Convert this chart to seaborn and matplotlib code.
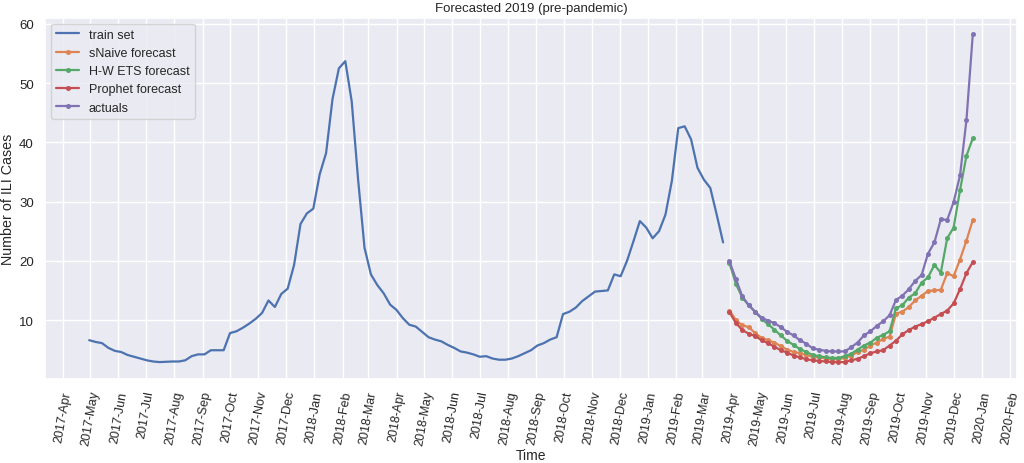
import numpy as np
import pandas as pd
import matplotlib
matplotlib.use("Agg")
import matplotlib.pyplot as plt
import matplotlib.dates as mdates
import seaborn as sns

# ---- data ----
train_start = "2017-04-30"
train_values = [
    6.6, 6.3, 6.1, 5.3, 4.8, 4.6, 4.1, 3.8, 3.5, 3.2,
    3.0, 2.9, 2.95, 3.0, 3.0, 3.2, 3.9, 4.2, 4.2, 4.9,
    4.9, 4.9, 7.8, 8.1, 8.7, 9.4, 10.2, 11.2, 13.3, 12.2,
    14.4, 15.3, 19.3, 26.2, 28.0, 28.8, 34.6, 38.2, 47.3, 52.5,
    53.7, 46.9, 33.7, 22.2, 17.7, 15.9, 14.5, 12.6, 11.7, 10.3,
    9.2, 8.9, 8.0, 7.1, 6.7, 6.4, 5.8, 5.3, 4.7, 4.5,
    4.2, 3.8, 3.9, 3.5, 3.3, 3.3, 3.5, 3.9, 4.4, 4.9,
    5.7, 6.1, 6.7, 7.1, 11.0, 11.4, 12.1, 13.2, 14.0, 14.8,
    14.9, 15.0, 17.7, 17.4, 20.0, 23.3, 26.7, 25.6, 23.8, 25.0,
    27.8, 33.5, 42.4, 42.7, 40.5, 35.7, 33.7, 32.3, 27.8, 23.1,
]

forecast_start = "2019-03-31"
snaive_values = [
    11.6, 10.0, 9.1, 8.8, 7.8, 7.0, 6.6, 6.2, 5.6, 5.0,
    4.6, 4.4, 4.1, 3.8, 3.7, 3.5, 3.4, 3.4, 3.6, 4.0,
    4.6, 5.0, 5.7, 6.2, 6.8, 7.2, 11.1, 11.4, 12.2, 13.3,
    14.1, 14.9, 15.0, 15.1, 17.9, 17.4, 20.2, 23.4, 26.9,
]
hw_ets_values = [
    19.6, 16.1, 13.8, 12.5, 11.4, 10.2, 9.3, 8.4, 7.4, 6.5,
    5.8, 5.1, 4.6, 4.1, 3.9, 3.7, 3.6, 3.6, 3.9, 4.3,
    5.0, 5.7, 6.2, 7.0, 7.5, 8.1, 12.0, 12.5, 13.8, 14.5,
    16.3, 17.2, 19.3, 18.0, 23.8, 25.6, 31.9, 37.7, 40.7,
]
prophet_values = [
    11.3, 9.5, 8.3, 7.7, 7.3, 6.6, 6.1, 5.5, 4.9, 4.5,
    4.0, 3.7, 3.4, 3.2, 3.1, 3.0, 2.9, 2.9, 2.9, 3.2,
    3.45, 3.9, 4.4, 4.7, 4.9, 5.7, 6.5, 7.6, 8.3, 8.9,
    9.3, 9.8, 10.4, 11.0, 11.6, 12.8, 15.2, 17.9, 19.8,
]
actual_values = [
    19.9, 16.9, 14.0, 12.5, 11.4, 10.4, 9.9, 9.5, 8.8, 8.0,
    7.4, 6.6, 6.0, 5.2, 5.0, 4.8, 4.7, 4.7, 4.7, 5.4,
    6.2, 7.4, 8.1, 9.0, 9.8, 10.8, 13.4, 14.1, 15.2, 16.6,
    17.6, 21.2, 23.1, 27.0, 26.9, 29.9, 34.4, 43.7, 58.3,
]

series_labels = ["train set", "sNaive forecast", "H-W ETS forecast",
                 "Prophet forecast", "actuals"]
title_text = "Forecasted 2019 (pre-pandemic)"
x_label = "Time"
y_label = "Number of ILI Cases"

# ---- build frames ----
train_dates = pd.date_range(train_start, periods=len(train_values), freq="7D")
fc_dates = pd.date_range(forecast_start, periods=len(actual_values), freq="7D")
train_df = pd.DataFrame({"date": train_dates, "value": train_values})
fc_df = pd.DataFrame({
    "date": fc_dates,
    series_labels[1]: snaive_values,
    series_labels[2]: hw_ets_values,
    series_labels[3]: prophet_values,
    series_labels[4]: actual_values,
})

# ---- style ----
sns.set_theme(style="darkgrid")
plt.rcParams["font.family"] = ["Liberation Sans", "DejaVu Sans"]

pal = sns.color_palette("deep")
fig, ax = plt.subplots(figsize=(10.24, 4.64), dpi=100)
fig.subplots_adjust(left=45/1024, right=1017/1024, top=1-18.5/464, bottom=1-379.5/464)

sns.lineplot(data=train_df, x="date", y="value", ax=ax, color=pal[0],
             linewidth=1.6, label=series_labels[0])
for i, name in enumerate(series_labels[1:], start=1):
    sns.lineplot(data=fc_df, x="date", y=name, ax=ax, color=pal[i],
                 linewidth=1.6, marker="o", markersize=3.6,
                 markeredgewidth=0, label=name)

ax.xaxis.set_major_locator(mdates.MonthLocator())
ax.xaxis.set_major_formatter(mdates.DateFormatter("%Y-%b"))
ax.tick_params(axis="x", labelrotation=80, labelsize=9, pad=2)
ax.tick_params(axis="y", labelsize=9.5, pad=2)
ax.set_title(title_text, fontsize=9.5, pad=5)
ax.set_xlabel(x_label, fontsize=10, labelpad=1)
ax.set_ylabel(y_label, fontsize=10.3, labelpad=3)
ax.legend(loc="upper left", fontsize=9, frameon=True, handlelength=1.8)

fig.savefig("out.png", dpi=100)
